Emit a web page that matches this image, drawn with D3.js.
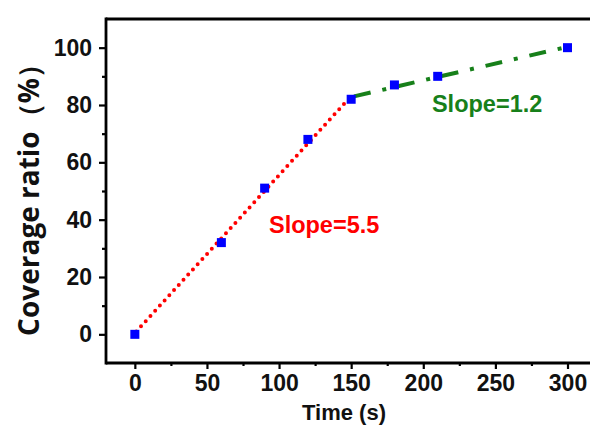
<!DOCTYPE html>
<html><head><meta charset="utf-8">
<script src="https://cdn.jsdelivr.net/npm/d3@7"></script>
<style>
html,body{margin:0;padding:0;background:#fff;}
svg{display:block;}
</style></head>
<body>
<svg id="c" width="590" height="426"></svg>
<script>
// ---- data ----
const times = [0, 60, 90, 120, 150, 180, 210, 300];
const coverage = [0, 32, 51, 68, 82, 87, 90, 100];
const fitEarlyX = [1, 148];
const fitEarlyY = [1, 82];
const fitLateX = [152, 300];
const fitLateY = [83, 100.3];
const xTicks = [0, 50, 100, 150, 200, 250, 300];
const yTicks = [0, 20, 40, 60, 80, 100];
const xMinor = [25, 75, 125, 175, 225, 275];
const yMinor = [10, 30, 50, 70, 90];
const labelEarly = "Slope=5.5";
const labelLate = "Slope=1.2";
const xTitle = "Time (s)";
const yTitle = "Coverage ratio（%）";

const svg = d3.select("#c");
const L = 106, T = 19, B = 363;
const x = d3.scaleLinear().domain([-20, 300]).range([L, 567.5]);
const y = d3.scaleLinear().domain([-10, 110]).range([B, T]);
const font = "'Liberation Sans', Arial, sans-serif";
const titleFont = "'Open Sans', 'Noto Sans', sans-serif";
const green = "#17801a";

// axes
const xAxis = svg.append("g").attr("transform", `translate(0,${B})`)
  .call(d3.axisBottom(x).tickValues(xTicks).tickSize(6).tickSizeOuter(0).tickPadding(6));
const xAxisMinor = svg.append("g").attr("transform", `translate(0,${B})`)
  .call(d3.axisBottom(x).tickValues(xMinor).tickSize(3).tickFormat(""));
const yAxis = svg.append("g").attr("transform", `translate(${L},0)`)
  .call(d3.axisLeft(y).tickValues(yTicks).tickSize(7).tickSizeOuter(0).tickPadding(7));
const yAxisMinor = svg.append("g").attr("transform", `translate(${L},0)`)
  .call(d3.axisLeft(y).tickValues(yMinor).tickSize(4).tickFormat(""));
[xAxis, xAxisMinor, yAxis, yAxisMinor].forEach(g => {
  g.selectAll(".domain").remove();
  g.selectAll("line").attr("stroke", "#000").attr("stroke-width", 2.2);
  g.selectAll("text").attr("fill", "#111").style("font-family", font)
    .style("font-weight", "bold").style("font-size", "23px");
});
// axis lines (frame)
svg.append("line").attr("x1", L).attr("x2", 600).attr("y1", B).attr("y2", B)
  .attr("stroke", "#000").attr("stroke-width", 2.8);
svg.append("line").attr("x1", L).attr("x2", L).attr("y1", T - 1.4).attr("y2", B + 1.4)
  .attr("stroke", "#000").attr("stroke-width", 2.8);
svg.append("line").attr("x1", L).attr("x2", 600).attr("y1", T).attr("y2", T)
  .attr("stroke", "#000").attr("stroke-width", 2.8);

// fit lines
const line = d3.line().x(d => x(d[0])).y(d => y(d[1]));
svg.append("path").datum(fitEarlyX.map((v, i) => [v, fitEarlyY[i]]))
  .attr("d", line).attr("fill", "none").attr("stroke", "#ff0000")
  .attr("stroke-width", 4).attr("stroke-linecap", "round").attr("stroke-dasharray", "0 7");
svg.append("path").datum(fitLateX.map((v, i) => [v, fitLateY[i]]))
  .attr("d", line).attr("fill", "none").attr("stroke", green)
  .attr("stroke-width", 4).attr("stroke-linecap", "butt").attr("stroke-dasharray", "17 12 4 12");

// points
svg.append("g").selectAll("rect").data(times).join("rect")
  .attr("x", (d) => x(d) - 4.5).attr("y", (d, i) => y(coverage[i]) - 4.5)
  .attr("width", 9).attr("height", 9).attr("fill", "#0000ff");

// slope labels
svg.append("text").attr("x", x(93)).attr("y", y(35.5)).text(labelEarly)
  .attr("fill", "#ff0000").style("font-family", font).style("font-weight", "bold").style("font-size", "23.5px");
svg.append("text").attr("x", x(206)).attr("y", y(77.5)).text(labelLate)
  .attr("fill", green).style("font-family", font).style("font-weight", "bold").style("font-size", "23.5px");

// titles
svg.append("text").attr("x", 344).attr("y", 420).attr("text-anchor", "middle").text(xTitle)
  .attr("fill", "#111").style("font-family", font).style("font-weight", "bold").style("font-size", "22px");
svg.append("text").attr("transform", "translate(39,193) rotate(-90)").attr("text-anchor", "middle").text(yTitle)
  .attr("fill", "#111").style("font-family", titleFont).style("font-weight", "bold").style("font-size", "28px");
</script>
</body></html>
